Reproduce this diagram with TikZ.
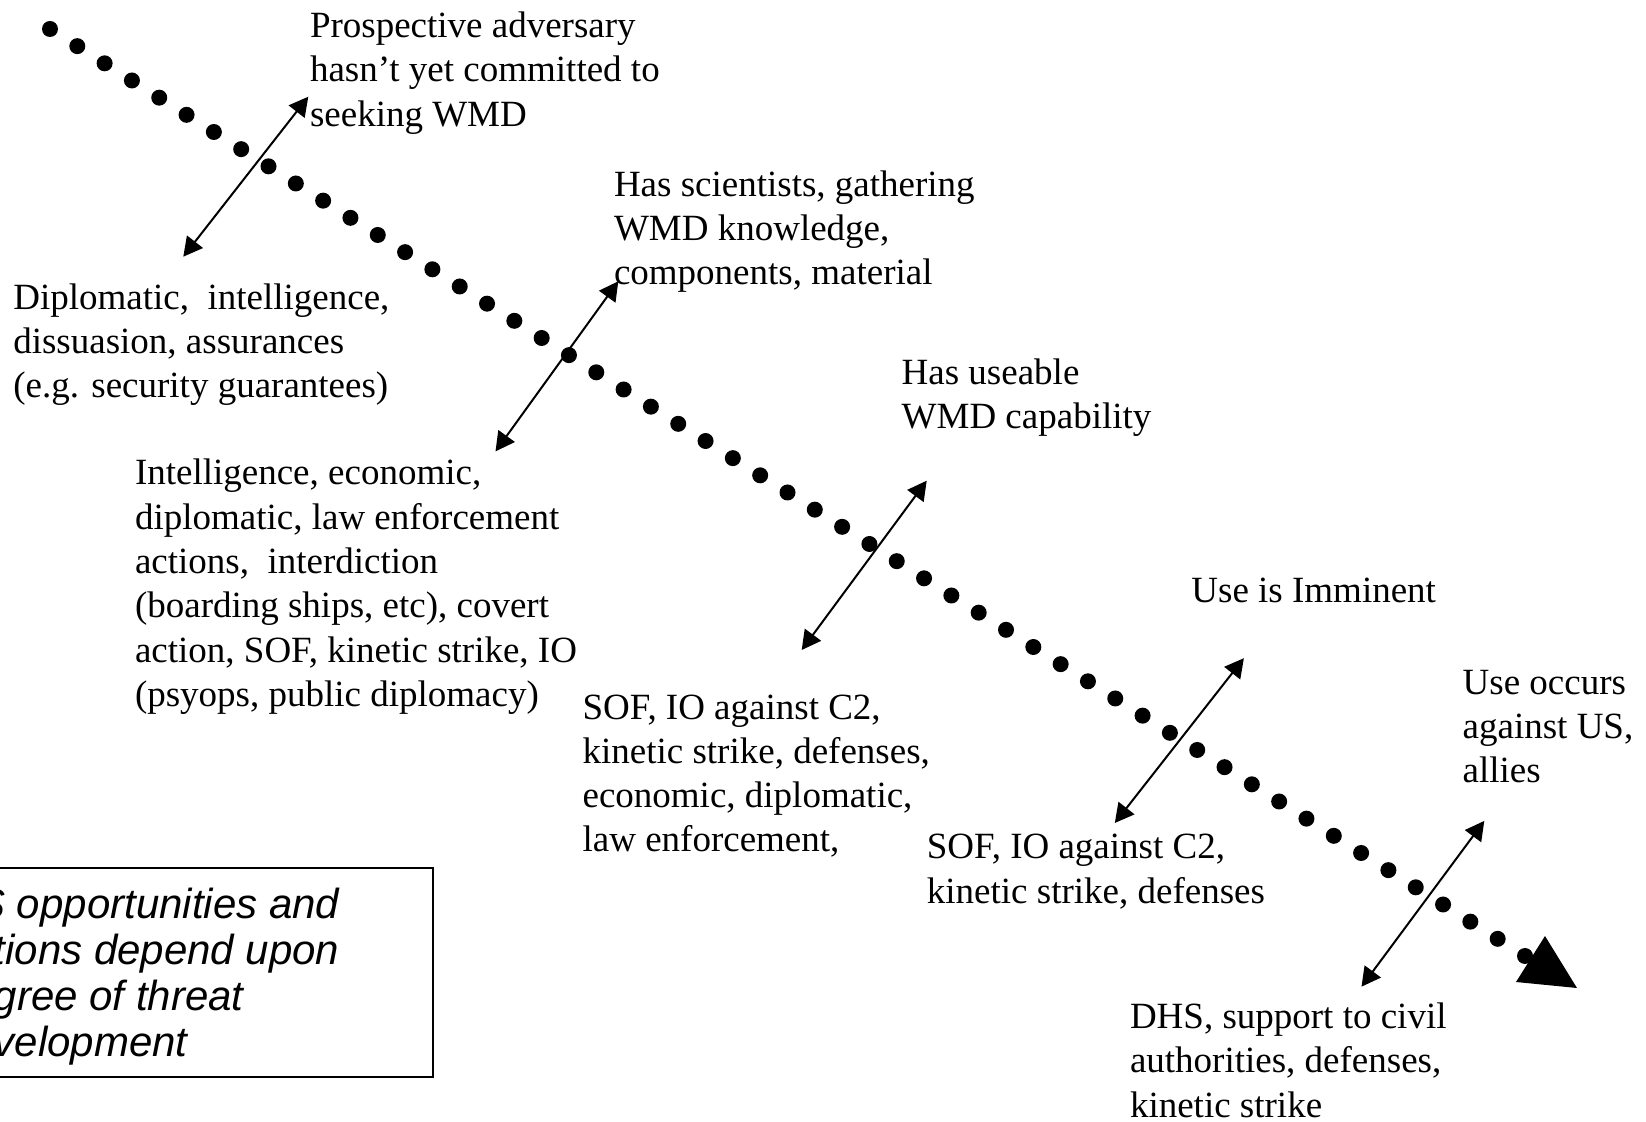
\documentclass[tikz,border=0pt]{standalone}
\usepackage{fontspec}
\setmainfont{Liberation Serif}
\newfontfamily\boxfont{Liberation Sans}
\usetikzlibrary{arrows.meta,calc}
\begin{document}
\begin{tikzpicture}[x=0.5pt,y=-0.5pt,
  lbl/.style={anchor=north west, inner sep=0pt, outer sep=0pt, align=left,
    font=\fontsize{18.5}{22.15}\selectfont},
  notetext/.style={anchor=north west, inner sep=0pt, outer sep=0pt, align=left,
    font=\boxfont\itshape\fontsize{21}{23}\selectfont},
  dbl/.style={line width=1pt, {Triangle[length=9.5pt,width=10pt]}-{Triangle[length=9.5pt,width=10pt]}},
  dotfill/.style={fill=black},
  headfill/.style={fill=black},
  notebox/.style={draw=black, line width=1pt}]
\useasboundingbox (0,0) rectangle (1646,1122);
\clip (0,0) rectangle (1646,1122);

% dotted timeline
\coordinate (dstart) at (50,29);
\coordinate (dend) at (1525,956);
\foreach \i in {0,...,54}
  \fill[dotfill] ($(dstart)!\i/54!(dend)$) circle (8);
% big arrowhead
\coordinate (htip) at (1577,988);
\coordinate (hc1) at (1545,936);
\coordinate (hc2) at (1516,982);
\fill[headfill] (htip) -- (hc1) -- (hc2) -- cycle;

% double arrows
\coordinate (a1s) at (183.3,256.7); \coordinate (a1e) at (308.3,96.7);
\coordinate (a2s) at (495.5,451.4); \coordinate (a2e) at (618.3,281.3);
\coordinate (a3s) at (801.7,650);   \coordinate (a3e) at (926.7,480.7);
\coordinate (a4s) at (1114.8,823);  \coordinate (a4e) at (1243.9,658.2);
\coordinate (a5s) at (1361.5,986.7); \coordinate (a5e) at (1484.3,820.9);
\draw[dbl] (a1s) -- (a1e);
\draw[dbl] (a2s) -- (a2e);
\draw[dbl] (a3s) -- (a3e);
\draw[dbl] (a4s) -- (a4e);
\draw[dbl] (a5s) -- (a5e);

% labels
\node[lbl] (tA) at (310,6.6) {\strut Prospective adversary\\hasn't yet committed to\\seeking WMD};
\node[lbl] (tB) at (13.3,278.3) {\strut Diplomatic,\ \ intelligence,\\dissuasion, assurances\\(e.g. security guarantees)};
\node[lbl] (tC) at (614,165.3) {\strut Has scientists, gathering\\WMD knowledge,\\components, material};
\node[lbl] (tD) at (135,453.9) {\strut Intelligence, economic,\\diplomatic, law enforcement\\actions,\ \ interdiction\\(boarding ships, etc), covert\\action, SOF, kinetic strike, IO\\(psyops, public diplomacy)};
\node[lbl] (tE) at (901.7,353.2) {\strut Has useable\\WMD capability};
\node[lbl] (tF) at (582.6,688) {\strut SOF, IO against C2,\\kinetic strike, defenses,\\economic, diplomatic,\\law enforcement,};
\node[lbl] (tG) at (1191.4,571.5) {\strut Use is Imminent};
\node[lbl] (tH) at (926.9,827.7) {\strut SOF, IO against C2,\\kinetic strike, defenses};
\node[lbl] (tI) at (1462.7,663.3) {\strut Use occurs\\against US,\\allies};
\node[lbl] (tJ) at (1130,997.5) {\strut DHS, support to civil\\authorities, defenses,\\kinetic strike};

% note box
\coordinate (nb1) at (-80,868);
\coordinate (nb2) at (433,1077);
\draw[notebox] (nb1) rectangle (nb2);
\node[notetext] (note) at (-53,886) {\strut US opportunities and\\options depend upon\\degree of threat\\development};
\end{tikzpicture}
\end{document}
